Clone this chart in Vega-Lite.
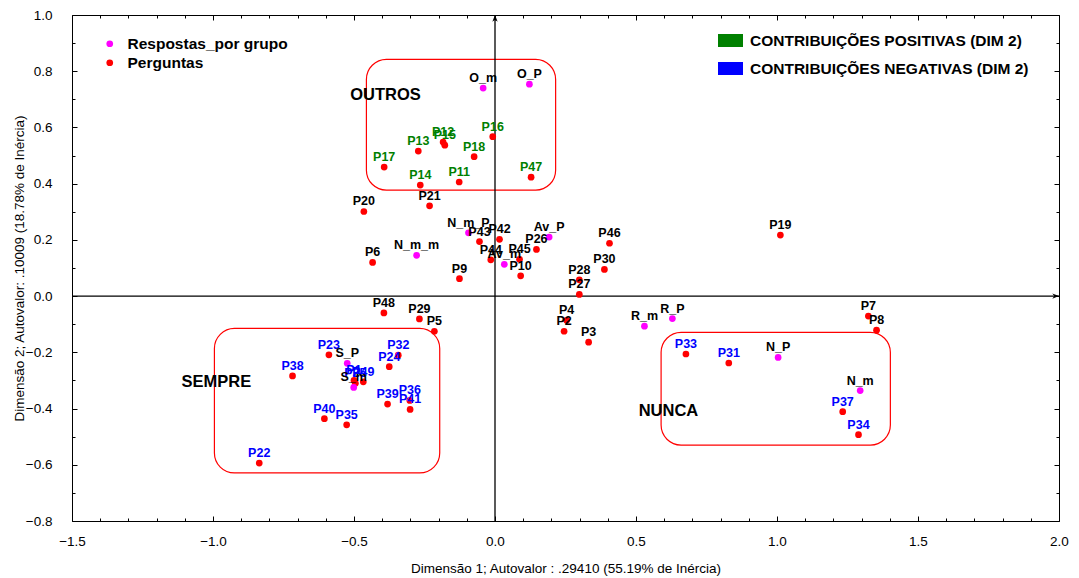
{
  "$schema": "https://vega.github.io/schema/vega-lite/v6.json",
  "width": 987,
  "height": 506,
  "autosize": {"type": "none"},
  "padding": {"left": 72, "top": 15, "right": 20, "bottom": 57},
  "background": "white",
  "config": {"view": {"stroke": "black", "strokeWidth": 1}},
  "datasets": {
    "pts": [
      {"nome": "O_m", "x": -0.042, "y": 0.74, "tipo": "Respostas_por grupo", "contrib": "neutra"},
      {"nome": "O_P", "x": 0.122, "y": 0.754, "tipo": "Respostas_por grupo", "contrib": "neutra"},
      {"nome": "P16", "x": -0.008, "y": 0.567, "tipo": "Perguntas", "contrib": "CONTRIBUIÇÕES POSITIVAS (DIM 2)"},
      {"nome": "P12", "x": -0.184, "y": 0.548, "tipo": "Perguntas", "contrib": "CONTRIBUIÇÕES POSITIVAS (DIM 2)"},
      {"nome": "P15", "x": -0.178, "y": 0.537, "tipo": "Perguntas", "contrib": "CONTRIBUIÇÕES POSITIVAS (DIM 2)"},
      {"nome": "P13", "x": -0.272, "y": 0.516, "tipo": "Perguntas", "contrib": "CONTRIBUIÇÕES POSITIVAS (DIM 2)"},
      {"nome": "P18", "x": -0.074, "y": 0.496, "tipo": "Perguntas", "contrib": "CONTRIBUIÇÕES POSITIVAS (DIM 2)"},
      {"nome": "P17", "x": -0.393, "y": 0.459, "tipo": "Perguntas", "contrib": "CONTRIBUIÇÕES POSITIVAS (DIM 2)"},
      {"nome": "P47", "x": 0.128, "y": 0.423, "tipo": "Perguntas", "contrib": "CONTRIBUIÇÕES POSITIVAS (DIM 2)"},
      {"nome": "P14", "x": -0.265, "y": 0.395, "tipo": "Perguntas", "contrib": "CONTRIBUIÇÕES POSITIVAS (DIM 2)"},
      {"nome": "P11", "x": -0.127, "y": 0.406, "tipo": "Perguntas", "contrib": "CONTRIBUIÇÕES POSITIVAS (DIM 2)"},
      {"nome": "P20", "x": -0.465, "y": 0.301, "tipo": "Perguntas", "contrib": "neutra"},
      {"nome": "P21", "x": -0.232, "y": 0.321, "tipo": "Perguntas", "contrib": "neutra"},
      {"nome": "N_m_P", "x": -0.094, "y": 0.225, "tipo": "Respostas_por grupo", "contrib": "neutra"},
      {"nome": "P43", "x": -0.055, "y": 0.194, "tipo": "Perguntas", "contrib": "neutra"},
      {"nome": "P42", "x": 0.016, "y": 0.202, "tipo": "Perguntas", "contrib": "neutra"},
      {"nome": "Av_P", "x": 0.192, "y": 0.21, "tipo": "Respostas_por grupo", "contrib": "neutra"},
      {"nome": "P26", "x": 0.147, "y": 0.166, "tipo": "Perguntas", "contrib": "neutra"},
      {"nome": "P46", "x": 0.406, "y": 0.188, "tipo": "Perguntas", "contrib": "neutra"},
      {"nome": "P6", "x": -0.434, "y": 0.12, "tipo": "Perguntas", "contrib": "neutra"},
      {"nome": "N_m_m", "x": -0.278, "y": 0.145, "tipo": "Respostas_por grupo", "contrib": "neutra"},
      {"nome": "P44", "x": -0.015, "y": 0.129, "tipo": "Perguntas", "contrib": "neutra"},
      {"nome": "Av_m", "x": 0.033, "y": 0.113, "tipo": "Respostas_por grupo", "contrib": "neutra"},
      {"nome": "P45", "x": 0.087, "y": 0.131, "tipo": "Perguntas", "contrib": "neutra"},
      {"nome": "P10", "x": 0.091, "y": 0.072, "tipo": "Perguntas", "contrib": "neutra"},
      {"nome": "P9", "x": -0.126, "y": 0.062, "tipo": "Perguntas", "contrib": "neutra"},
      {"nome": "P30", "x": 0.388, "y": 0.095, "tipo": "Perguntas", "contrib": "neutra"},
      {"nome": "P28", "x": 0.299, "y": 0.058, "tipo": "Perguntas", "contrib": "neutra"},
      {"nome": "P27", "x": 0.299, "y": 0.006, "tipo": "Perguntas", "contrib": "neutra"},
      {"nome": "P19", "x": 1.012, "y": 0.217, "tipo": "Perguntas", "contrib": "neutra"},
      {"nome": "P48", "x": -0.394, "y": -0.06, "tipo": "Perguntas", "contrib": "neutra"},
      {"nome": "P29", "x": -0.268, "y": -0.081, "tipo": "Perguntas", "contrib": "neutra"},
      {"nome": "P5", "x": -0.215, "y": -0.125, "tipo": "Perguntas", "contrib": "neutra"},
      {"nome": "P4", "x": 0.254, "y": -0.086, "tipo": "Perguntas", "contrib": "neutra"},
      {"nome": "P2", "x": 0.245, "y": -0.125, "tipo": "Perguntas", "contrib": "neutra"},
      {"nome": "P3", "x": 0.332, "y": -0.164, "tipo": "Perguntas", "contrib": "neutra"},
      {"nome": "R_m", "x": 0.53, "y": -0.107, "tipo": "Respostas_por grupo", "contrib": "neutra"},
      {"nome": "R_P", "x": 0.629, "y": -0.08, "tipo": "Respostas_por grupo", "contrib": "neutra"},
      {"nome": "P7", "x": 1.324, "y": -0.071, "tipo": "Perguntas", "contrib": "neutra"},
      {"nome": "P8", "x": 1.353, "y": -0.121, "tipo": "Perguntas", "contrib": "neutra"},
      {"nome": "P33", "x": 0.677, "y": -0.206, "tipo": "Perguntas", "contrib": "CONTRIBUIÇÕES NEGATIVAS (DIM 2)"},
      {"nome": "P31", "x": 0.829, "y": -0.238, "tipo": "Perguntas", "contrib": "CONTRIBUIÇÕES NEGATIVAS (DIM 2)"},
      {"nome": "N_P", "x": 1.004, "y": -0.218, "tipo": "Respostas_por grupo", "contrib": "neutra"},
      {"nome": "N_m", "x": 1.295, "y": -0.336, "tipo": "Respostas_por grupo", "contrib": "neutra"},
      {"nome": "P37", "x": 1.233, "y": -0.411, "tipo": "Perguntas", "contrib": "CONTRIBUIÇÕES NEGATIVAS (DIM 2)"},
      {"nome": "P34", "x": 1.289, "y": -0.493, "tipo": "Perguntas", "contrib": "CONTRIBUIÇÕES NEGATIVAS (DIM 2)"},
      {"nome": "P23", "x": -0.589, "y": -0.209, "tipo": "Perguntas", "contrib": "CONTRIBUIÇÕES NEGATIVAS (DIM 2)"},
      {"nome": "S_P", "x": -0.524, "y": -0.239, "tipo": "Respostas_por grupo", "contrib": "neutra"},
      {"nome": "P32", "x": -0.343, "y": -0.21, "tipo": "Perguntas", "contrib": "CONTRIBUIÇÕES NEGATIVAS (DIM 2)"},
      {"nome": "P24", "x": -0.375, "y": -0.251, "tipo": "Perguntas", "contrib": "CONTRIBUIÇÕES NEGATIVAS (DIM 2)"},
      {"nome": "P38", "x": -0.718, "y": -0.284, "tipo": "Perguntas", "contrib": "CONTRIBUIÇÕES NEGATIVAS (DIM 2)"},
      {"nome": "P1", "x": -0.5, "y": -0.3, "tipo": "Perguntas", "contrib": "CONTRIBUIÇÕES NEGATIVAS (DIM 2)"},
      {"nome": "P25", "x": -0.495, "y": -0.31, "tipo": "Perguntas", "contrib": "CONTRIBUIÇÕES NEGATIVAS (DIM 2)"},
      {"nome": "P49", "x": -0.467, "y": -0.305, "tipo": "Perguntas", "contrib": "CONTRIBUIÇÕES NEGATIVAS (DIM 2)"},
      {"nome": "S_m", "x": -0.501, "y": -0.325, "tipo": "Respostas_por grupo", "contrib": "neutra"},
      {"nome": "P39", "x": -0.381, "y": -0.384, "tipo": "Perguntas", "contrib": "CONTRIBUIÇÕES NEGATIVAS (DIM 2)"},
      {"nome": "P36", "x": -0.302, "y": -0.371, "tipo": "Perguntas", "contrib": "CONTRIBUIÇÕES NEGATIVAS (DIM 2)"},
      {"nome": "P41", "x": -0.301, "y": -0.403, "tipo": "Perguntas", "contrib": "CONTRIBUIÇÕES NEGATIVAS (DIM 2)"},
      {"nome": "P40", "x": -0.605, "y": -0.436, "tipo": "Perguntas", "contrib": "CONTRIBUIÇÕES NEGATIVAS (DIM 2)"},
      {"nome": "P35", "x": -0.526, "y": -0.458, "tipo": "Perguntas", "contrib": "CONTRIBUIÇÕES NEGATIVAS (DIM 2)"},
      {"nome": "P22", "x": -0.836, "y": -0.594, "tipo": "Perguntas", "contrib": "CONTRIBUIÇÕES NEGATIVAS (DIM 2)"}
    ],
    "caixas": [
      {"x": -0.456, "x2": 0.215, "y": 0.842, "y2": 0.377},
      {"x": -0.995, "x2": -0.196, "y": -0.115, "y2": -0.629},
      {"x": 0.589, "x2": 1.402, "y": -0.129, "y2": -0.53}
    ],
    "grupos": [
      {"txt": "OUTROS", "x": -0.388, "y": 0.715},
      {"txt": "SEMPRE", "x": -0.988, "y": -0.306},
      {"txt": "NUNCA", "x": 0.615, "y": -0.409}
    ]
  },
  "encoding": {
    "x": {"field": "x", "type": "quantitative", "scale": {"domain": [-1.5, 2.0], "nice": false, "zero": false}, "axis": null},
    "y": {"field": "y", "type": "quantitative", "scale": {"domain": [-0.8, 1.0], "nice": false, "zero": false}, "axis": null}
  },
  "layer": [
    {
      "data": {"name": "caixas"},
      "mark": {"type": "rect", "fill": null, "fillOpacity": 0, "stroke": "#ff0000", "strokeWidth": 1.2, "cornerRadius": 20},
      "encoding": {
        "x": {"field": "x", "type": "quantitative", "axis": {"orient": "top", "title": null, "labels": false, "domain": false, "values": [-1.5,-1.4,-1.3,-1.2,-1.1,-1.0,-0.9,-0.8,-0.7,-0.6,-0.5,-0.4,-0.3,-0.2,-0.1,0,0.1,0.2,0.3,0.4,0.5,0.6,0.7,0.8,0.9,1.0,1.1,1.2,1.3,1.4,1.5,1.6,1.7,1.8,1.9,2.0], "tickColor": "black", "tickSize": {"condition": {"test": "abs(datum.value*2 - round(datum.value*2)) < 0.001", "value": -5}, "value": -3}, "grid": false}},
        "x2": {"field": "x2"},
        "y": {"field": "y", "type": "quantitative", "axis": {"orient": "right", "title": null, "labels": false, "domain": false, "values": [-0.8,-0.7,-0.6,-0.5,-0.4,-0.3,-0.2,-0.1,0,0.1,0.2,0.3,0.4,0.5,0.6,0.7,0.8,0.9,1.0], "tickColor": "black", "tickSize": {"condition": {"test": "round(datum.value*10) % 2 == 0", "value": -5}, "value": -3}, "grid": false}},
        "y2": {"field": "y2"}
      }
    },
    {
      "data": {"values": [{"x": -1.5, "x2": 2.0, "y": 0}]},
      "mark": {"type": "rule", "color": "black", "strokeWidth": 1.3},
      "encoding": {"x": {"field": "x", "type": "quantitative"}, "x2": {"field": "x2"}, "y": {"field": "y", "type": "quantitative"}}
    },
    {
      "data": {"values": [{"x": 0, "y": -0.8, "y2": 1.0}]},
      "mark": {"type": "rule", "color": "black", "strokeWidth": 1.3},
      "encoding": {"x": {"field": "x", "type": "quantitative"}, "y": {"field": "y", "type": "quantitative"}, "y2": {"field": "y2"}}
    },
    {
      "data": {"values": [{"x": 2.0, "y": 0}]},
      "mark": {"type": "point", "shape": "M0,0L-1,-0.4L-0.7,0L-1,0.4Z", "filled": true, "color": "black", "size": 180, "opacity": 1}
    },
    {
      "data": {"values": [{"x": 0, "y": 1.0}]},
      "mark": {"type": "point", "shape": "M0,0L-0.4,1L0,0.7L0.4,1Z", "filled": true, "color": "black", "size": 180, "opacity": 1}
    },
    {
      "data": {"name": "pts"},
      "mark": {"type": "point", "shape": "circle", "filled": true, "size": 45, "opacity": 1},
      "encoding": {
        "x": {"field": "x", "type": "quantitative", "axis": {"orient": "bottom", "title": "Dimensão 1; Autovalor : .29410 (55.19% de Inércia)", "titleFont": "Liberation Sans", "titleFontSize": 13.5, "titleFontWeight": "normal", "titleColor": "black", "titlePadding": 12, "labelFont": "Liberation Sans", "labelFontSize": 13.5, "labelColor": "black", "labelPadding": 18, "labelExpr": "abs(datum.value*2 - round(datum.value*2)) < 0.001 ? format(datum.value, '.1f') : ''", "labelOverlap": false, "labelFlush": false, "domain": false, "grid": false, "tickColor": "black", "values": [-1.5,-1.4,-1.3,-1.2,-1.1,-1.0,-0.9,-0.8,-0.7,-0.6,-0.5,-0.4,-0.3,-0.2,-0.1,0,0.1,0.2,0.3,0.4,0.5,0.6,0.7,0.8,0.9,1.0,1.1,1.2,1.3,1.4,1.5,1.6,1.7,1.8,1.9,2.0], "tickSize": {"condition": {"test": "abs(datum.value*2 - round(datum.value*2)) < 0.001", "value": -5}, "value": -3}}},
        "y": {"field": "y", "type": "quantitative", "axis": {"orient": "left", "title": "Dimensão 2; Autovalor: .10009 (18.78% de Inércia)", "titleFont": "Liberation Sans", "titleFontSize": 13.5, "titleFontWeight": "normal", "titleColor": "black", "titlePadding": -1, "labelFont": "Liberation Sans", "labelFontSize": 13.5, "labelColor": "black", "labelPadding": 25, "labelExpr": "round(datum.value*10) % 2 == 0 ? format(datum.value, '.1f') : ''", "labelOverlap": false, "labelFlush": false, "domain": false, "grid": false, "tickColor": "black", "values": [-0.8,-0.7,-0.6,-0.5,-0.4,-0.3,-0.2,-0.1,0,0.1,0.2,0.3,0.4,0.5,0.6,0.7,0.8,0.9,1.0], "tickSize": {"condition": {"test": "round(datum.value*10) % 2 == 0", "value": -5}, "value": -3}}},
        "color": {"field": "tipo", "type": "nominal", "scale": {"domain": ["Respostas_por grupo", "Perguntas"], "range": ["#ff00ff", "#ff0000"]}, "legend": {"orient": "none", "legendX": 30, "legendY": 21, "title": null, "padding": 0, "labelFont": "Liberation Sans", "labelFontWeight": "bold", "labelFontSize": 15.5, "labelColor": "black", "labelOffset": 10, "labelLimit": 400, "symbolType": "circle", "symbolSize": 45, "symbolStrokeWidth": 0, "rowPadding": 2}}
      }
    },
    {
      "data": {"name": "pts"},
      "mark": {"type": "text", "font": "Liberation Sans", "fontWeight": "bold", "fontSize": 12.5, "align": "center", "baseline": "alphabetic", "dy": -6},
      "encoding": {
        "text": {"field": "nome"},
        "color": {"field": "contrib", "type": "nominal", "scale": {"domain": ["CONTRIBUIÇÕES POSITIVAS (DIM 2)", "CONTRIBUIÇÕES NEGATIVAS (DIM 2)", "neutra"], "range": ["#008000", "#0000ff", "#000000"]}, "legend": {"orient": "none", "legendX": 646, "legendY": 13, "title": null, "padding": 0, "values": ["CONTRIBUIÇÕES POSITIVAS (DIM 2)", "CONTRIBUIÇÕES NEGATIVAS (DIM 2)"], "labelFont": "Liberation Sans", "labelFontWeight": "bold", "labelFontSize": 15.5, "labelColor": "black", "labelOffset": 7, "labelLimit": 400, "symbolType": "M-1,-0.52H1V0.52H-1Z", "symbolSize": 625, "symbolStrokeWidth": 0, "symbolOpacity": 1, "rowPadding": 7}}
      }
    },
    {
      "data": {"name": "grupos"},
      "mark": {"type": "text", "font": "Liberation Sans", "fontWeight": "bold", "fontSize": 16.5, "align": "center", "baseline": "middle", "color": "black"},
      "encoding": {"text": {"field": "txt"}}
    }
  ],
  "resolve": {"scale": {"color": "independent"}, "legend": {"color": "independent"}, "axis": {"x": "independent", "y": "independent"}}
}
